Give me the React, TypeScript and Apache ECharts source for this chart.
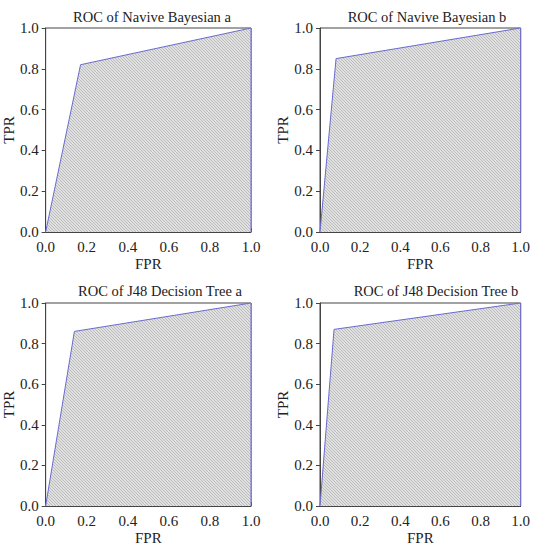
import React, { useEffect, useRef } from "react";
import * as echarts from "echarts";

const titles = [
  "ROC of Navive Bayesian a",
  "ROC of Navive Bayesian b",
  "ROC of J48 Decision Tree a",
  "ROC of J48 Decision Tree b",
];
const fprPoints = [
  [0, 0.17, 1, 1],
  [0, 0.08, 1, 1],
  [0, 0.14, 1, 1],
  [0, 0.07, 1, 1],
];
const tprPoints = [
  [0, 0.82, 1, 0],
  [0, 0.85, 1, 0],
  [0, 0.86, 1, 0],
  [0, 0.87, 1, 0],
];
const xAxisName = "FPR";
const yAxisName = "TPR";

const grids = [
  { left: 45, top: 28, width: 206, height: 204 },
  { left: 320, top: 28, width: 206, height: 204 },
  { left: 45, top: 303, width: 206, height: 206 },
  { left: 320, top: 303, width: 206, height: 206 },
];
const titlePos = [
  { x: 147, y: 4 },
  { x: 422, y: 4 },
  { x: 155, y: 278 },
  { x: 431, y: 278 },
];

function makeHatch() {
  const c = document.createElement("canvas");
  c.width = 3;
  c.height = 3;
  const ctx = c.getContext("2d")!;
  ctx.fillStyle = "#e0e0e0";
  ctx.fillRect(0, 0, 3, 3);
  ctx.fillStyle = "#bcbcbc";
  for (let i = 0; i < 3; i++) ctx.fillRect(i, i, 1, 1);
  return c;
}

export default function App() {
  const ref = useRef<HTMLDivElement>(null);
  useEffect(() => {
    const chart = echarts.init(ref.current!, undefined, { renderer: "svg" });
    const hatch = makeHatch();
    const font = "'Liberation Serif', 'DejaVu Serif', serif";
    const fmt = (v: number) => v.toFixed(1);
    chart.setOption({
      animation: false,
      backgroundColor: "#ffffff",
      textStyle: { fontFamily: font },
      title: titles.map((t, i) => ({
        text: t,
        left: titlePos[i].x,
        top: titlePos[i].y,
        textAlign: "center",
        textStyle: { fontFamily: font, fontSize: 14.5, fontWeight: "normal", color: "#222" },
      })),
      grid: grids.map((g) => ({
        ...g,
        show: true,
        borderColor: "#444",
        borderWidth: 1,
        backgroundColor: "transparent",
        containLabel: false,
      })),
      xAxis: grids.map((_, i) => ({
        type: "value",
        gridIndex: i,
        min: 0,
        max: 1,
        interval: 0.2,
        name: xAxisName,
        nameLocation: "middle",
        nameGap: 24,
        nameTextStyle: { fontFamily: font, fontSize: 15, color: "#222" },
        axisLine: { show: true, lineStyle: { color: "#444", width: 1 } },
        axisTick: { show: true, inside: true, length: 4, lineStyle: { color: "#444" } },
        axisLabel: { formatter: fmt, fontFamily: font, fontSize: 15, color: "#222", margin: 7 },
        splitLine: { show: false },
      })),
      yAxis: grids.map((_, i) => ({
        type: "value",
        gridIndex: i,
        min: 0,
        max: 1,
        interval: 0.2,
        name: yAxisName,
        nameLocation: "middle",
        nameGap: i % 2 === 0 ? 25 : 21,
        nameTextStyle: { fontFamily: font, fontSize: 15, color: "#222" },
        axisLine: { show: true, lineStyle: { color: "#444", width: 1 } },
        axisTick: { show: true, inside: false, length: 4, lineStyle: { color: "#444" } },
        axisLabel: { formatter: fmt, fontFamily: font, fontSize: 15, color: "#222", margin: 7 },
        splitLine: { show: false },
      })),
      series: grids.map((_, i) => ({
        type: "line",
        xAxisIndex: i,
        yAxisIndex: i,
        data: fprPoints[i].map((x, j) => [x, tprPoints[i][j]]),
        showSymbol: false,
        symbol: "none",
        lineStyle: { color: "#6a6ad0", width: 1 },
        areaStyle: { color: { image: hatch, repeat: "repeat" }, opacity: 1 },
        z: 3,
      })),
    });
    return () => chart.dispose();
  }, []);
  return (
    <div
      ref={ref}
      style={{ position: "fixed", left: 0, top: 0, width: 533, height: 546 }}
    />
  );
}
